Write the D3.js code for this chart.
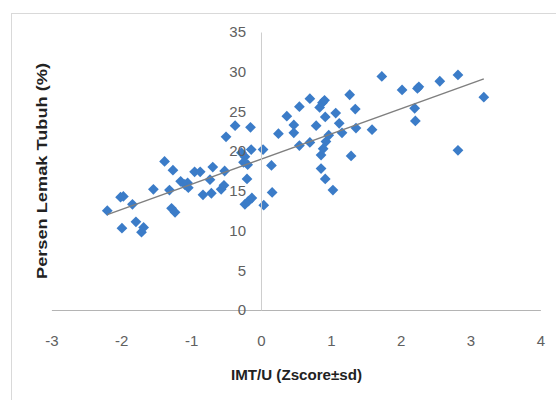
<!DOCTYPE html>
<html>
<head>
<meta charset="utf-8">
<script src="https://cdn.jsdelivr.net/npm/d3@7/dist/d3.min.js"></script>
<style>
  body { margin: 0; background: #fff; }
  svg { display: block; }
</style>
</head>
<body>
<div id="chart"></div>
<script>
// Data
var zScore = [-2.20, -2.01, -1.97, -1.99, -1.84, -1.79, -1.71, -1.68, -1.54, -1.38,
              -1.31, -1.26, -1.28, -1.23, -1.15, -1.09, -1.05, -1.04, -0.95, -0.87,
              -0.83, -0.71, -0.73, -0.69, -0.57, -0.53, -0.52, -0.50, -0.37, -0.15,
              -0.14, -0.28, -0.23, -0.25, -0.19, -0.20, -0.23, -0.18, -0.13, 0.03,
              0.04, 0.15, 0.16, 0.25, 0.37, 0.47, 0.47, 0.55, 0.55, 0.70,
              0.70, 0.79, 0.84, 0.88, 0.91, 0.92, 0.86, 0.89, 0.93, 0.97,
              0.86, 0.92, 1.03, 1.07, 1.12, 1.16, 1.27, 1.29, 1.35, 1.36,
              1.59, 1.73, 2.02, 2.20, 2.21, 2.24, 2.26, 2.56, 2.82, 2.82, 3.19];
var fatPct = [12.5, 14.2, 14.3, 10.3, 13.3, 11.1, 9.8, 10.4, 15.2, 18.7,
              15.1, 17.6, 12.8, 12.3, 16.2, 15.8, 16.0, 15.4, 17.4, 17.4,
              14.5, 14.7, 16.4, 18.0, 15.2, 15.7, 17.5, 21.8, 23.2, 23.0,
              20.2, 19.8, 19.3, 18.6, 18.3, 16.5, 13.3, 13.7, 14.1, 20.2,
              13.2, 18.2, 14.8, 22.2, 24.4, 23.3, 22.3, 25.6, 20.7, 26.6,
              21.1, 23.2, 25.5, 26.1, 26.4, 24.3, 19.5, 20.3, 21.2, 22.0,
              17.8, 16.5, 15.1, 24.8, 23.5, 22.3, 27.1, 19.4, 25.3, 22.9,
              22.7, 29.4, 27.7, 25.4, 23.8, 27.9, 28.1, 28.8, 29.6, 20.1, 26.8];
var xTicks = [-3, -2, -1, 0, 1, 2, 3, 4];
var yTicks = [0, 5, 10, 15, 20, 25, 30, 35];
// linear trendline
var trendSlope = 3.17;
var trendIntercept = 18.99;
var trendRange = [-2.2, 3.19];

var width = 556;
var height = 400;

var svg = d3.select('#chart')
            .append('svg')
            .attr('width', width)
            .attr('height', height);

// chart frame
svg.append('rect')
   .attr('x', 11.5)
   .attr('y', 13.5)
   .attr('width', 600)
   .attr('height', 500)
   .style('fill', 'none')
   .style('stroke', '#d9d9d9');

var xScale = d3.scaleLinear().domain([-3, 4]).range([51.4, 540.4]);
var yScale = d3.scaleLinear().domain([0, 35]).range([310, 32]);

// Axes (plain hyphen for negatives, like the original)
var xAxis = d3.axisBottom(xScale).tickValues(xTicks).tickSize(0).tickPadding(25)
              .tickFormat(d => String(d));
var gx = svg.append('g')
            .attr('transform', 'translate(0,' + yScale(0) + ')')
            .call(xAxis);

var yAxis = d3.axisLeft(yScale).tickValues(yTicks).tickSize(0).tickPadding(15)
              .tickFormat(d => String(d));
var gy = svg.append('g')
            .attr('transform', 'translate(' + xScale(0) + ',0)')
            .call(yAxis);

gx.select('.domain').style('stroke', '#b4b4b4');
gy.select('.domain').style('stroke', '#cdcdcd');
svg.selectAll('.tick text')
   .style('font-family', '"Liberation Sans Narrow", "Liberation Sans", sans-serif')
   .style('font-size', '15px')
   .style('fill', '#606060');

// Points (rotated squares = diamonds)
var diamond = d3.symbol().type(d3.symbolSquare).size(58);
svg.append('g')
   .selectAll('path')
   .data(zScore.map((z, i) => [z, fatPct[i]]))
   .enter()
   .append('path')
   .attr('d', diamond)
   .attr('transform', d => 'translate(' + xScale(d[0]) + ',' + yScale(d[1]) + ') rotate(45)')
   .style('fill', '#3b7cc8');

// Trendline
svg.append('line')
   .attr('x1', xScale(trendRange[0]))
   .attr('y1', yScale(trendIntercept + trendSlope * trendRange[0]))
   .attr('x2', xScale(trendRange[1]))
   .attr('y2', yScale(trendIntercept + trendSlope * trendRange[1]))
   .style('stroke', '#7f7f7f')
   .style('stroke-width', 1.4);

// keep tick labels above the points
gx.raise();
gy.raise();
gx.select('.domain').lower();
gy.select('.domain').lower();

// Axis titles
svg.append('text')
   .text('IMT/U (Zscore±sd)')
   .attr('x', 296.5)
   .attr('y', 380)
   .attr('text-anchor', 'middle')
   .attr('textLength', 131)
   .attr('lengthAdjust', 'spacingAndGlyphs')
   .style('font-family', '"Liberation Sans", Arial, sans-serif')
   .style('font-weight', 'bold')
   .style('font-size', '14px')
   .style('fill', '#222');

svg.append('text')
   .text('Persen Lemak Tubuh (%)')
   .attr('transform', 'translate(47,171) rotate(-90)')
   .attr('text-anchor', 'middle')
   .attr('textLength', 216)
   .attr('lengthAdjust', 'spacingAndGlyphs')
   .style('font-family', '"Liberation Sans", Arial, sans-serif')
   .style('font-weight', 'bold')
   .style('font-size', '15px')
   .style('fill', '#222');
</script>
</body>
</html>
